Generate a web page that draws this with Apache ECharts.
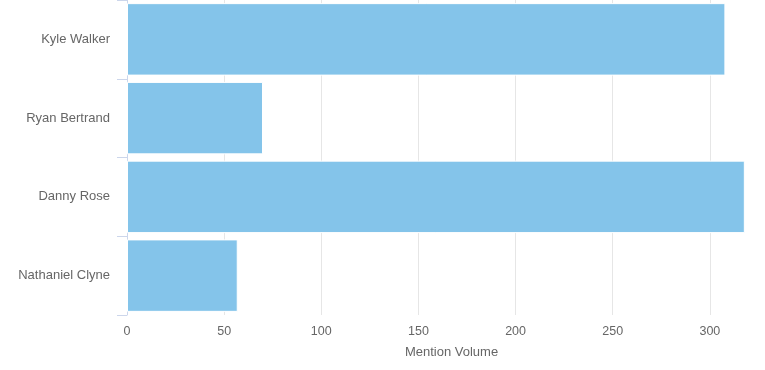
<!DOCTYPE html>
<html>
<head>
<meta charset="utf-8">
<script src="https://cdn.jsdelivr.net/npm/echarts@6/dist/echarts.min.js"></script>
<style>
html,body{margin:0;padding:0;background:#fff;}
#chart{width:765px;height:370px;}
</style>
</head>
<body>
<div id="chart"></div>
<script>
const categories = ["Kyle Walker", "Ryan Bertrand", "Danny Rose", "Nathaniel Clyne"];
const mentionVolume = [308, 70, 318, 57];
const xTicks = [0, 50, 100, 150, 200, 250, 300, 350];

const chart = echarts.init(document.getElementById('chart'), null, {renderer: 'canvas'});
chart.setOption({
  animation: false,
  backgroundColor: '#ffffff',
  textStyle: {fontFamily: '"Liberation Sans", Arial, sans-serif'},
  grid: {left: 127, width: 680, top: 0, bottom: 55, containLabel: false, outerBoundsMode: 'none'},
  xAxis: {
    type: 'value',
    min: xTicks[0],
    max: xTicks[xTicks.length - 1],
    interval: 50,
    name: 'Mention Volume',
    nameLocation: 'middle',
    nameGap: 31,
    nameTextStyle: {color: '#666666', fontSize: 13, padding: [0, 31, 0, 0]},
    axisLine: {show: false},
    axisTick: {show: false},
    axisLabel: {color: '#666666', fontSize: 12.5, margin: 10},
    splitLine: {show: true, lineStyle: {color: '#e6e6e6', width: 1}}
  },
  yAxis: {
    type: 'category',
    data: categories,
    inverse: true,
    axisLine: {show: true, lineStyle: {color: '#ccd6eb', width: 1}},
    axisTick: {show: true, length: 10, lineStyle: {color: '#ccd6eb'}},
    axisLabel: {color: '#666666', fontSize: 13, margin: 17, padding: [0, 0, 5, 0]},
    splitLine: {show: false}
  },
  series: [{
    type: 'bar',
    data: mentionVolume,
    barCategoryGap: '8%',
    itemStyle: {color: '#84c4ea', borderColor: '#ffffff', borderWidth: 1}
  }]
});
</script>
</body>
</html>
